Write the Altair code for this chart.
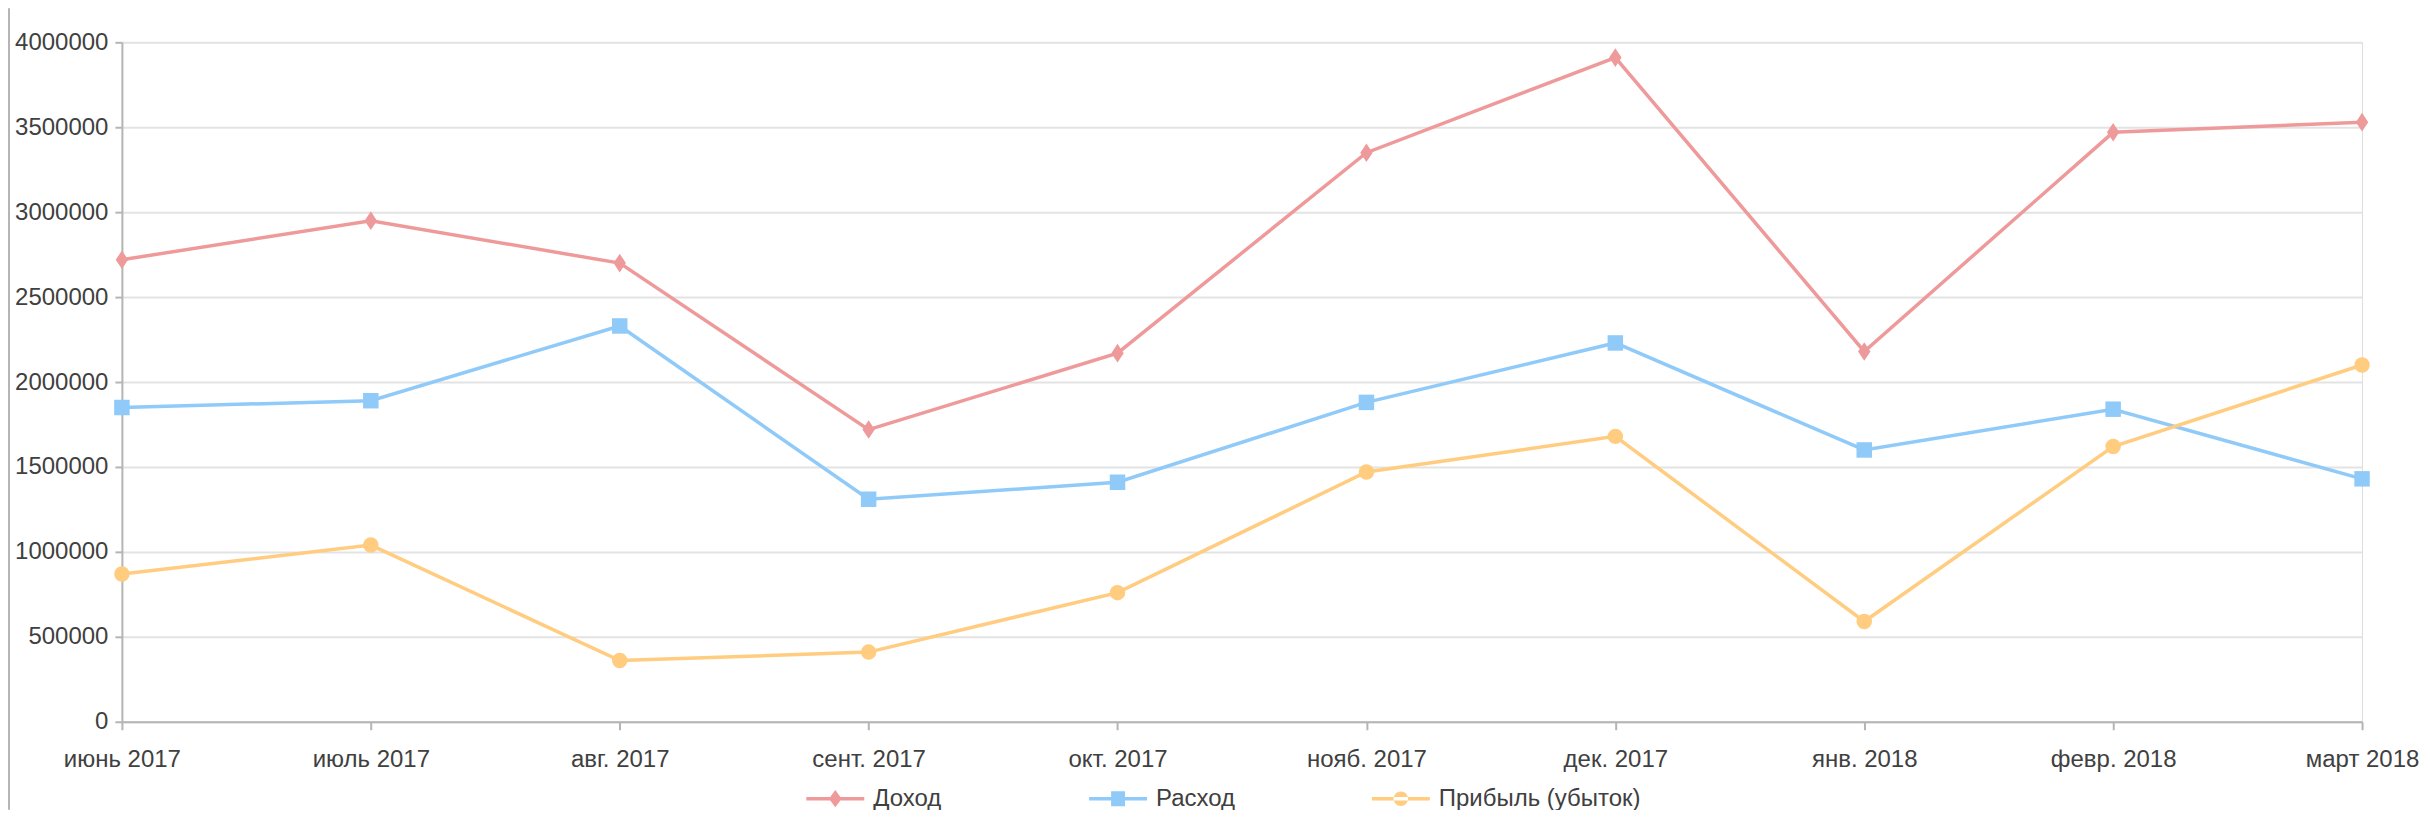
import altair as alt
import pandas as pd

months = ["июнь 2017", "июль 2017", "авг. 2017", "сент. 2017", "окт. 2017",
          "нояб. 2017", "дек. 2017", "янв. 2018", "февр. 2018", "март 2018"]
series = ["Доход", "Расход", "Прибыль (убыток)"]
income = [2720000, 2950000, 2700000, 1720000, 2170000, 3350000, 3910000, 2180000, 3470000, 3530000]
expense = [1850000, 1890000, 2330000, 1310000, 1410000, 1880000, 2230000, 1600000, 1840000, 1430000]
profit = [870000, 1040000, 360000, 410000, 760000, 1470000, 1680000, 590000, 1620000, 2100000]
y_ticks = [0, 500000, 1000000, 1500000, 2000000, 2500000, 3000000, 3500000, 4000000]

colors = ["#EF9A9A", "#90CAF9", "#FFCC80"]
plot_shapes = ["M0,-1.2L0.8,0L0,1.2L-0.8,0Z", "square", "circle"]
legend_shapes = [
    "M-1,-0.06L1,-0.06L1,0.06L-1,0.06Z M0,-0.3L0.22,0L0,0.3L-0.22,0Z",
    "M-1,-0.06L1,-0.06L1,0.06L-1,0.06Z M-0.24,-0.26L0.24,-0.26L0.24,0.26L-0.24,0.26Z",
    "M-1,-0.06L1,-0.06L1,0.06L-1,0.06Z M-0.25,0A0.25,0.25 0 1,0 0.25,0A0.25,0.25 0 1,0 -0.25,0Z",
]

rows = []
for name, vals in zip(series, [income, expense, profit]):
    for m, v in zip(months, vals):
        rows.append({"month": m, "series": name, "value": v})
df = pd.DataFrame(rows)

FONT = "Liberation Sans"
TXT = "#404040"
FS = 24

x_enc = alt.X("month:N", sort=months, scale=alt.Scale(type="point", padding=0),
              axis=alt.Axis(title=None, labelAngle=0, grid=False, tickSize=8,
                            labelPadding=18, domainColor="#B5B5B5", tickColor="#B5B5B5",
                            domainWidth=2, tickWidth=2, labelFontSize=FS, labelFont=FONT,
                            labelColor=TXT, labelOverlap=False))
y_enc = alt.Y("value:Q", scale=alt.Scale(domain=[0, 4000000], nice=False),
              axis=alt.Axis(title=None, values=y_ticks, format="d", tickSize=7,
                            labelPadding=7, domainColor="#B5B5B5", tickColor="#B5B5B5",
                            domainWidth=2, tickWidth=2, gridColor="#E3E3E3", gridWidth=2,
                            labelFontSize=FS, labelFont=FONT, labelColor=TXT))

def color_enc(legend):
    return alt.Color("series:N", sort=series,
                     scale=alt.Scale(domain=series, range=colors), legend=legend)

base = alt.Chart(df)

lines = base.mark_line(strokeWidth=3.5).encode(x=x_enc, y=y_enc, color=color_enc(None),
                                               detail="series:N")
points = base.mark_point(filled=True, opacity=1, size=240).encode(
    x=x_enc, y=y_enc, color=color_enc(None),
    shape=alt.Shape("series:N", sort=series,
                    scale=alt.Scale(domain=series, range=plot_shapes), legend=None))

leg = alt.Legend(title=None, orient="none", legendX=685, legendY=728, direction="horizontal",
                 columns=3, gridAlign="all", columnPadding=14, symbolSize=3364,
                 labelFontSize=FS, labelFont=FONT, labelColor=TXT, labelOffset=9,
                 labelLimit=1000, padding=0, symbolStrokeWidth=0)
legend_layer = base.transform_filter("false").mark_point(filled=True, opacity=1).encode(
    x=x_enc, y=y_enc, color=color_enc(leg),
    shape=alt.Shape("series:N", sort=series,
                    scale=alt.Scale(domain=series, range=legend_shapes), legend=leg))

border = alt.Chart(pd.DataFrame({"a": [0]})).mark_rule(color="#B5B5B5", strokeWidth=2).encode(
    x=alt.value(-113), y=alt.value(-34), y2=alt.value(768))

chart = alt.layer(border, lines, points, legend_layer).resolve_scale(
    color="independent", shape="independent"
).properties(
    width=2242, height=680,
    autosize=alt.AutoSizeParams(type="none"),
    padding={"left": 114, "top": 34, "right": 60, "bottom": 88},
).configure_view(stroke=None).configure(background="white")

chart.save("out.html", embed_options={"renderer": "svg", "actions": False})
